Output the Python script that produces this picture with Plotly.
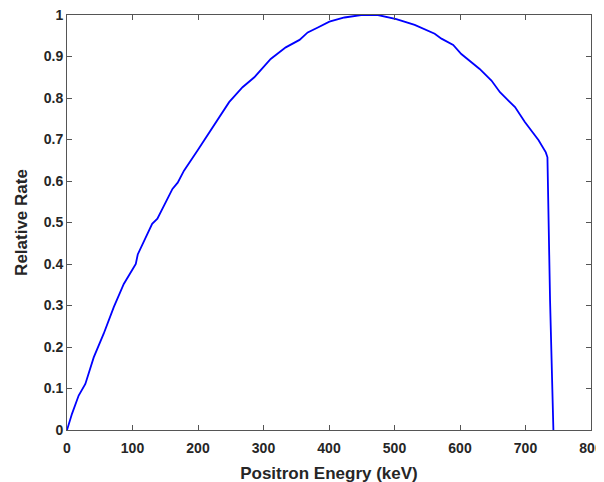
import plotly.graph_objects as go

energy_kev = [0, 7.6, 17.8, 28, 40.8, 56, 71.4, 86.7, 102, 105, 108, 130, 138, 161, 169,
              178.6, 199, 204, 227, 247.5, 268, 286, 311, 334, 355, 367.5, 383, 400.6,
              423.6, 449, 462, 474.7, 502.8, 530.8, 561.4, 571.7, 589.6, 602, 630, 648,
              661, 684, 699, 720, 731, 733.5, 737.5, 742.6]
relative_rate = [0, 0.039, 0.083, 0.111, 0.175, 0.232, 0.296, 0.352, 0.392, 0.40, 0.423,
                 0.497, 0.509, 0.581, 0.596, 0.625, 0.673, 0.685, 0.742, 0.790, 0.826,
                 0.850, 0.894, 0.922, 0.940, 0.958, 0.970, 0.984, 0.994, 1.0, 1.0, 1.0,
                 0.990, 0.976, 0.955, 0.943, 0.928, 0.906, 0.870, 0.842, 0.814, 0.778,
                 0.742, 0.698, 0.669, 0.657, 0.312, 0]

x_ticks = [0, 100, 200, 300, 400, 500, 600, 700, 800]
y_ticks = [0, 0.1, 0.2, 0.3, 0.4, 0.5, 0.6, 0.7, 0.8, 0.9, 1]
y_tick_labels = ["0", "0.1", "0.2", "0.3", "0.4", "0.5", "0.6", "0.7", "0.8", "0.9", "1"]

FONT = "Liberation Sans, Arial, Helvetica, sans-serif"
TEXT = "#262626"
LINE = "#555555"

fig = go.Figure()
fig.add_trace(go.Scatter(x=energy_kev, y=relative_rate, mode="lines",
                         line=dict(color="#0000ff", width=1.8), showlegend=False))

axis_common = dict(showgrid=False, zeroline=False, showline=True, linecolor=LINE,
                   linewidth=1, mirror="allticks", ticks="inside", ticklen=5,
                   tickcolor=LINE, tickwidth=1, automargin=False,
                   ticklabeloverflow="allow",
                   tickfont=dict(family=FONT, size=14, color=TEXT, weight="bold"))

fig.update_xaxes(range=[0, 800], tickvals=x_ticks, ticktext=[str(v) for v in x_ticks],
                 ticklabelstandoff=5,
                 title=dict(text="Positron Enegry (keV)", standoff=12,
                            font=dict(family=FONT, size=17, color=TEXT, weight="bold")),
                 **axis_common)
fig.update_yaxes(range=[0, 1], tickvals=y_ticks, ticktext=y_tick_labels,
                 title=dict(text="Relative Rate", standoff=11,
                            font=dict(family=FONT, size=17, color=TEXT, weight="bold")),
                 **axis_common)

# page body has an 8px margin; margins compensate so the plot area lands at x 67-591, y 15-430
fig.update_layout(width=604, height=482, margin=dict(l=59, r=21, t=7, b=60),
                  paper_bgcolor="white", plot_bgcolor="white",
                  font=dict(family=FONT, color=TEXT))

fig.write_html("out.html")
